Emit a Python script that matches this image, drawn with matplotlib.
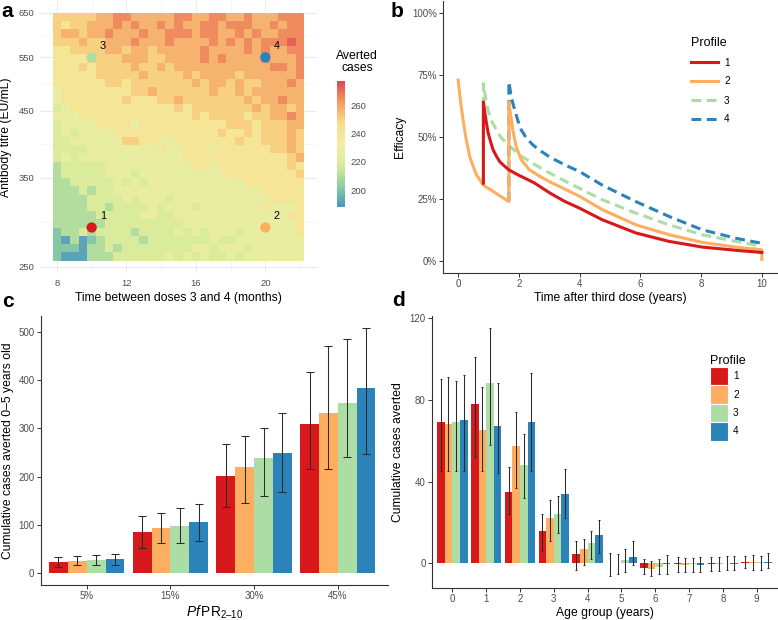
import numpy as np
import matplotlib
matplotlib.use('Agg')
import matplotlib.pyplot as plt
from matplotlib.colors import LinearSegmentedColormap, Normalize
from matplotlib.cm import ScalarMappable
from matplotlib.lines import Line2D
from matplotlib.patches import Patch
from matplotlib.ticker import FixedLocator, NullFormatter

plt.rcParams['font.family'] = 'Liberation Sans'
plt.rcParams['mathtext.fontset'] = 'custom'
plt.rcParams['mathtext.rm'] = 'Liberation Sans'
plt.rcParams['mathtext.it'] = 'Liberation Sans:italic'

profiles = ['1', '2', '3', '4']
profile_colors = ['#d7191c', '#fdae61', '#abdda4', '#2b83ba']

# ---- panel a: averted cases by booster timing and antibody titre ----
months = np.arange(8, 22.5, 0.5)          # 29 columns
# one digit per cell, rows from titre 650 (top) down to ~256 (bottom)
heat_rows = [
    "66666778877777887788778777888",
    "65667778787787877887888778788",
    "67767787778778887887787877888",
    "66676677787778777787878788898",
    "55666677677677777877778787788",
    "55556666777667777878777787778",
    "55565666676676777777777778878",
    "55555666667666676777767777778",
    "55555566566666667677676677787",
    "45555555566766666676676777777",
    "45555555655566766666667677877",
    "34555555555555656666666767767",
    "44455555555555556566665667787",
    "34444555545555555555666566677",
    "34344445555555555556556566676",
    "33444444665544555555565566676",
    "33334444444454455545555556676",
    "34344444444444455555555555567",
    "23333344444444445545555555565",
    "23333344434444444444555555556",
    "22333334343444444444445555555",
    "22232334444444444444444455555",
    "22223333434443444444444445555",
    "22223323333434443444444454445",
    "22222333334433444444444444455",
    "22222233333333344444444444445",
    "12232333323333434344434444445",
    "10201233332333333343344444444",
    "11102232333333334434443444444",
    "10002223333334343433434444444",
]
level_values = [192, 201, 210, 218, 227, 240, 250, 257, 265, 272]
point_months = [10, 20, 10, 20]
point_titres = [290, 290, 550, 550]

# ---- panel b: efficacy profiles ----
t1 = [0.83, 0.83, 0.9, 0.98, 1.07, 1.15, 1.27, 1.37, 1.5, 1.67, 2.0, 2.5, 3.0, 3.5, 4.0, 4.75, 5.85, 6.94, 8.03, 9.13, 10.0]
e1 = [31.3, 64.2, 58, 52, 48, 44.8, 42, 40, 38.5, 36.7, 34.5, 31.5, 27.5, 24, 21.2, 16.5, 11.2, 7.8, 5.5, 4.2, 3.3]
t2 = [0, 0.08, 0.16, 0.25, 0.38, 0.5, 0.6, 0.83, 1.15, 1.4, 1.67, 1.67, 1.74, 1.8, 1.91, 2.08, 2.35, 2.7, 3.0, 3.5, 4.0, 4.75, 5.85, 6.94, 8.03, 9.13, 10.0, 10.0]
e2 = [73, 64, 57, 50, 42, 38, 34.7, 30.5, 28, 26, 23.9, 64.2, 58, 52.8, 46, 40.7, 36.7, 34, 32, 29, 26, 20.6, 14.5, 10.5, 7.4, 5.5, 4.4, 0.5]
t3 = [0.83, 0.83, 0.9, 0.98, 1.1, 1.26, 1.4, 1.59, 2.02, 2.5, 3.0, 3.66, 4.75, 5.85, 6.94, 8.03, 9.13, 10.0]
e3 = [31.3, 71.6, 66, 61, 56.5, 52.8, 50, 47.5, 42.7, 39, 35.5, 31.3, 24.6, 19.2, 14.5, 10.5, 7.8, 5.8]
t4 = [1.67, 1.67, 1.75, 1.86, 1.97, 2.08, 2.25, 2.46, 2.7, 3.0, 3.5, 4.0, 4.75, 5.85, 6.94, 8.03, 9.13, 10.0]
e4 = [23.9, 72.3, 66, 61, 56.5, 52.8, 49.5, 46.8, 44.5, 42, 38.8, 36, 30.5, 23.9, 17.9, 12.5, 9.1, 7.0]

# ---- panel c: cases averted in 0-5 year olds by prevalence ----
prev_labels = ['5%', '15%', '30%', '45%']
c_mean = [[23, 85, 201, 309], [25, 93, 220, 332], [26, 98, 238, 353], [28, 105, 250, 384]]
c_low = [[12, 51, 137, 215], [16, 61, 145, 216], [16, 62, 160, 241], [17, 67, 168, 246]]
c_high = [[32, 119, 267, 418], [34, 125, 284, 472], [36, 134, 302, 486], [40, 142, 333, 509]]

# ---- panel d: cases averted by age group ----
ages = ['0', '1', '2', '3', '4', '5', '6', '7', '8', '9']
d_mean = [[69, 78, 35, 16, 4.5, 0, -2, -0.5, -0.5, 0.5],
          [68, 65, 57.5, 22, 7, 0, -2.5, -1, -0.5, 0.5],
          [69, 88, 48, 24, 10, 1.8, -1.5, -0.5, 0, 0.5],
          [70, 67, 69, 34, 14, 3, -0.5, -1, -0.5, 0.5]]
d_low = [[45, 52, 24, 6, -3, -6, -5, -4, -3.5, -2],
         [45, 45, 37, 11, -1, -5, -6, -4, -3.5, -3],
         [45, 58, 32, 15, 2, -4, -5, -4, -3, -3],
         [45, 44, 45, 22, 5, -1, -5, -4, -3, -2]]
d_high = [[90, 101, 47, 24, 11, 5, 2, 3, 3, 3.5],
          [91, 86, 74, 31, 12, 4.5, 1, 2.5, 3, 4],
          [89, 115, 63, 33, 16, 7, 2, 2.5, 3.5, 3.5],
          [92, 88, 93, 46, 21, 11, 4, 3, 3.5, 5]]

W, H = 778, 620
fig = plt.figure(figsize=(W / 100, H / 100), dpi=100)


def px(left, top, right, bottom):
    return [left / W, 1 - bottom / H, (right - left) / W, (bottom - top) / H]


tick_grey = '#4d4d4d'
tick_size = 7.0
label_size = 8.7


def classic(ax):
    for s in ['top', 'right']:
        ax.spines[s].set_visible(False)
    for s in ['left', 'bottom']:
        ax.spines[s].set_color('#333333')
        ax.spines[s].set_linewidth(0.8)
    ax.tick_params(colors='#333333', labelcolor=tick_grey, labelsize=tick_size, length=3, width=0.7, pad=1.5)


# panel a
ax_a = fig.add_axes(px(40, 0.6, 317, 273.4))
spectral = LinearSegmentedColormap.from_list(
    'spec', ['#4a94c0', '#8fcfa0', '#d9ec9b', '#f2eea6', '#f8dc88', '#f59c62', '#d9474f'])
norm = Normalize(188, 277)
averted = np.array([[level_values[int(c)] for c in row] for row in heat_rows])[::-1]
x_edges = np.append(months - 0.25, months[-1] + 0.25)
y_edges = np.geomspace(256, 650, len(heat_rows) + 1)
ax_a.set_yscale('log')
ax_a.pcolormesh(x_edges, y_edges, averted, cmap=spectral, norm=norm,
                edgecolors='none', zorder=2)
ax_a.scatter(point_months, point_titres, c=profile_colors, s=55, zorder=3, edgecolors='none')
for m, t, lab in zip(point_months, point_titres, profiles):
    ax_a.annotate(lab, (m, t), xytext=(6, 6), textcoords='offset points', fontsize=7.8, zorder=4)
ax_a.set_xlim(7.025, 22.975)
ax_a.set_ylim(244, 681)
ax_a.set_xticks([8, 12, 16, 20])
ax_a.xaxis.set_minor_locator(FixedLocator([10, 14, 18, 22]))
ax_a.set_yticks([250, 350, 450, 550, 650])
ax_a.set_yticklabels(['250', '350', '450', '550', '650'])
ax_a.yaxis.set_minor_locator(FixedLocator([296, 397, 497, 598]))
ax_a.yaxis.set_minor_formatter(NullFormatter())
ax_a.grid(True, which='major', color='#ebebeb', lw=0.8, zorder=0)
ax_a.grid(True, which='minor', color='#f3f3f3', lw=0.5, zorder=0)
ax_a.set_axisbelow(True)
for s in ax_a.spines.values():
    s.set_visible(False)
ax_a.tick_params(which='both', length=0, labelcolor=tick_grey, labelsize=6.8, pad=4)
ax_a.set_xlabel('Time between doses 3 and 4 (months)', fontsize=label_size, labelpad=3)
ax_a.set_ylabel('Antibody titre (EU/mL)', fontsize=label_size, labelpad=5)

cax = fig.add_axes(px(337, 81, 345, 207))
cb = fig.colorbar(ScalarMappable(norm=norm, cmap=spectral), cax=cax)
cb.outline.set_visible(False)
cb.set_ticks([200, 220, 240, 260])
cax.tick_params(length=0, labelcolor=tick_grey, labelsize=6.8, pad=4)
fig.text(357 / W, 1 - 50 / H, 'Averted\ncases', ha='center', va='top', fontsize=label_size,
         linespacing=1.05)

# panel b
ax_b = fig.add_axes(px(443, 1, 777, 273))
classic(ax_b)
ax_b.plot(t3, e3, color=profile_colors[2], lw=2.2, dashes=(3.2, 1.8), zorder=2)
ax_b.plot(t4, e4, color=profile_colors[3], lw=2.2, dashes=(3.2, 1.8), zorder=2)
ax_b.plot(t2, e2, color=profile_colors[1], lw=2.2, zorder=3)
ax_b.plot(t1, e1, color=profile_colors[0], lw=2.2, zorder=4)
ax_b.set_xlim(-0.5, 10.5)
ax_b.set_ylim(-5, 105)
ax_b.set_xticks([0, 2, 4, 6, 8, 10])
ax_b.set_yticks([0, 25, 50, 75, 100])
ax_b.set_yticklabels(['0%', '25%', '50%', '75%', '100%'])
ax_b.set_xlabel('Time after third dose (years)', fontsize=label_size, labelpad=2)
ax_b.set_ylabel('Efficacy', fontsize=label_size, labelpad=4)
b_handles = [Line2D([], [], color=profile_colors[0], lw=2.2),
             Line2D([], [], color=profile_colors[1], lw=2.2),
             Line2D([], [], color=profile_colors[2], lw=2.2, dashes=(3.2, 1.8)),
             Line2D([], [], color=profile_colors[3], lw=2.2, dashes=(3.2, 1.8))]
ax_b.legend(b_handles, profiles, title='Profile', loc='upper left',
            bbox_to_anchor=(686 / W, 1 - 31.5 / H), bbox_transform=fig.transFigure,
            frameon=False, borderpad=0, handlelength=2.7, handletextpad=0.6,
            labelspacing=0.9, fontsize=7.2, title_fontsize=9, alignment='left')

# panel c
ax_c = fig.add_axes(px(40.7, 315.7, 388, 585))
classic(ax_c)
offsets = [-0.3375, -0.1125, 0.1125, 0.3375]
xc = np.arange(1, len(prev_labels) + 1)
for i in range(4):
    m = np.array(c_mean[i])
    ax_c.bar(xc + offsets[i], m, width=0.225, color=profile_colors[i], zorder=2)
    ax_c.errorbar(xc + offsets[i], m, yerr=[m - np.array(c_low[i]), np.array(c_high[i]) - m],
                  fmt='none', ecolor='#2b2b2b', elinewidth=0.75, capsize=2.6, capthick=0.75, zorder=3)
ax_c.set_xlim(0.45, 4.6)
ax_c.set_ylim(-25.5, 534.5)
ax_c.set_xticks(xc)
ax_c.set_xticklabels(prev_labels)
ax_c.set_yticks([0, 100, 200, 300, 400, 500])
ax_c.set_xlabel(r'$\mathit{Pf}\,\mathrm{PR}_{\mathrm{2–10}}$', fontsize=label_size + 1.2, labelpad=2)
ax_c.set_ylabel('Cumulative cases averted 0–5 years old', fontsize=label_size, labelpad=3)

# panel d
ax_d = fig.add_axes(px(432, 315.7, 777, 588))
classic(ax_d)
xd = np.arange(len(ages))
for i in range(4):
    m = np.array(d_mean[i])
    ax_d.bar(xd + offsets[i], m, width=0.225, color=profile_colors[i], zorder=2)
    ax_d.errorbar(xd + offsets[i], m, yerr=[m - np.array(d_low[i]), np.array(d_high[i]) - m],
                  fmt='none', ecolor='#2b2b2b', elinewidth=0.75, capsize=1.0, capthick=0.75, zorder=3)
ax_d.set_xlim(-0.6, 9.6)
ax_d.set_ylim(-12, 121)
ax_d.set_xticks(xd)
ax_d.set_xticklabels(ages)
ax_d.set_yticks([0, 40, 80, 120])
ax_d.set_xlabel('Age group (years)', fontsize=label_size, labelpad=2)
ax_d.set_ylabel('Cumulative cases averted', fontsize=label_size, labelpad=4)
d_handles = [Patch(facecolor=c, edgecolor='white', lw=0.8) for c in profile_colors]
ax_d.legend(d_handles, profiles, title='Profile', loc='upper left',
            bbox_to_anchor=(705 / W, 1 - 350 / H), bbox_transform=fig.transFigure,
            frameon=False, borderpad=0, handlelength=1.8, handleheight=2.45, handletextpad=0.5,
            labelspacing=0.0, fontsize=7.2, title_fontsize=9, alignment='left')

# panel letters
for x, y, s in [(1, 17, 'a'), (391, 17, 'b'), (2, 307, 'c'), (392, 306, 'd')]:
    fig.text(x / W, 1 - y / H, s, fontsize=15, fontweight='bold', va='baseline')

fig.savefig('out.png', dpi=100)
